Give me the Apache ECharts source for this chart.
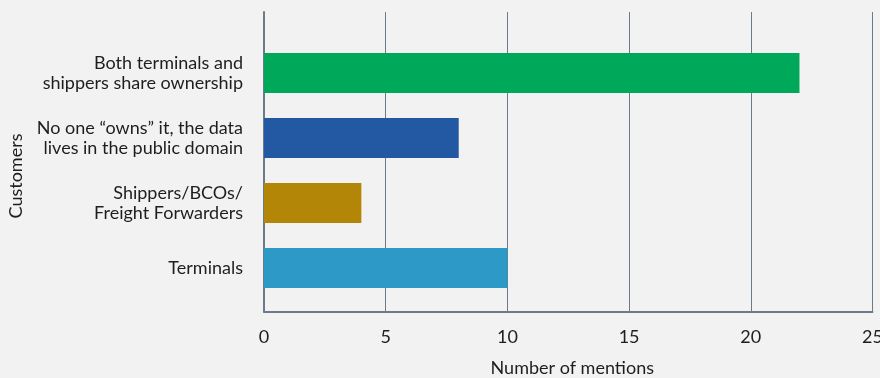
<!DOCTYPE html>
<html>
<head>
<meta charset="utf-8">
<script src="https://cdn.jsdelivr.net/npm/echarts@6/dist/echarts.min.js"></script>
<style>
  html, body { margin: 0; padding: 0; background: #f2f2f2; }
  #chart { width: 880px; height: 378px; }
</style>
</head>
<body>
<div id="chart"></div>
<script>
// Who owns the data: number of mentions per answer
const categories = [
  'Both terminals and\nshippers share ownership',
  'No one \u201cowns\u201d it, the data\nlives in the public domain',
  'Shippers/BCOs/\nFreight Forwarders',
  'Terminals'
];
const mentions = [22, 8, 4, 10];
const barColors = ['#00a85a', '#2358a2', '#b38607', '#2d99c7'];
const xTicks = { min: 0, max: 25, step: 5 };

const FONT = 'Lato, "Open Sans", sans-serif';
const TEXT = '#1e1e1e';
const LINE = '#6c7a89';

const chart = echarts.init(document.getElementById('chart'), null, { renderer: 'canvas' });

chart.setOption({
  backgroundColor: '#f2f2f2',
  animation: false,
  textStyle: { fontFamily: FONT },
  grid: [
    // band area for the bars
    { left: 264, right: 7.5, top: 40.5, bottom: 77.5, outerBoundsMode: 'none', containLabel: false },
    // full plotting frame with axes and gridlines
    { left: 264, right: 7.5, top: 12, bottom: 66.5, outerBoundsMode: 'none', containLabel: false }
  ],
  xAxis: [
    { gridIndex: 0, type: 'value', min: xTicks.min, max: xTicks.max, show: false },
    {
      gridIndex: 1, type: 'value', min: xTicks.min, max: xTicks.max, interval: xTicks.step,
      axisLine: { show: true, onZero: false, lineStyle: { color: LINE, width: 2 } },
      axisTick: { show: false },
      splitLine: { show: true, lineStyle: { color: LINE, width: 1 } },
      axisLabel: { color: TEXT, fontSize: 18, fontFamily: FONT, margin: 17 },
      name: 'Number of mentions',
      nameLocation: 'middle',
      nameGap: 48,
      nameTextStyle: { color: TEXT, fontSize: 18, fontFamily: FONT, padding: [0, 0, 0, 8] }
    }
  ],
  yAxis: [
    {
      gridIndex: 0, type: 'category', data: categories, inverse: true,
      axisLine: { show: false },
      axisTick: { show: false },
      splitLine: { show: false },
      axisLabel: { color: TEXT, fontSize: 18, lineHeight: 20, fontFamily: FONT, margin: 21, align: 'right' }
    },
    {
      gridIndex: 1, type: 'value', min: 0, max: 1,
      axisLine: { show: true, onZero: false, lineStyle: { color: LINE, width: 2 } },
      axisTick: { show: false },
      axisLabel: { show: false },
      splitLine: { show: false }
    }
  ],
  graphic: [
    {
      type: 'text',
      x: 16, y: 176,
      rotation: Math.PI / 2,
      style: {
        text: 'Customers',
        fill: TEXT,
        font: '18px ' + FONT,
        align: 'center',
        verticalAlign: 'middle'
      }
    }
  ],
  series: [
    {
      type: 'bar',
      xAxisIndex: 0,
      yAxisIndex: 0,
      barWidth: 40,
      data: mentions.map((v, i) => ({ value: v, itemStyle: { color: barColors[i] } })),
      z: 3
    }
  ]
});
</script>
</body>
</html>
